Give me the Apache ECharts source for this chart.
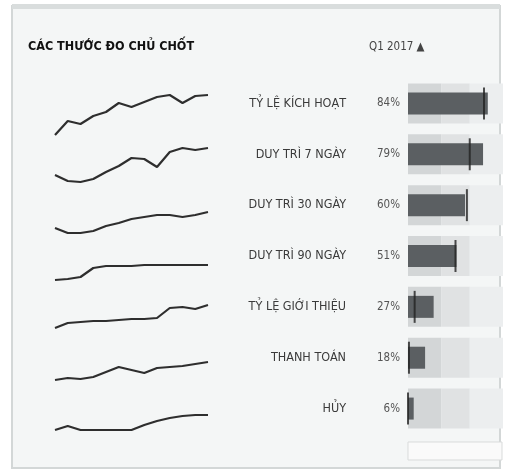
<!DOCTYPE html>
<html>
<head>
<meta charset="utf-8">
<script src="https://cdn.jsdelivr.net/npm/echarts@6/dist/echarts.min.js"></script>
<style>
html, body { margin: 0; padding: 0; background: #fff; }
#chart { width: 508px; height: 475px; }
</style>
</head>
<body>
<div id="chart"></div>
<script>
// ten chi so
var metrics = ['TỶ LỆ KÍCH HOẠT', 'DUY TRÌ 7 NGÀY', 'DUY TRÌ 30 NGÀY', 'DUY TRÌ 90 NGÀY', 'TỶ LỆ GIỚI THIỆU', 'THANH TOÁN', 'HỦY'];
var actualPct = [84, 79, 60, 51, 27, 18, 6];
var targetPct = [80, 65, 62, 50, 7, 1, 0];
// vung nen (xau / tam / tot), xep chong
var bandPoor = [35, 35, 35, 35, 35, 35, 35];
var bandFair = [30, 30, 30, 30, 30, 30, 30];
var bandGood = [35, 35, 35, 35, 35, 35, 35];
// xu huong theo tuan
var trendActivation = [3, 17, 14, 22, 26, 35, 31, 36, 41, 43, 35, 42, 43];
var trendRetain7 = [15, 9, 8, 11, 18, 24, 32, 31, 23, 38, 42, 40, 42];
var trendRetain30 = [17, 12, 12, 14, 19, 22, 26, 28, 30, 30, 28, 30, 33];
var trendRetain90 = [15, 16, 18, 27, 29, 29, 29, 30, 30, 30, 30, 30, 30];
var trendReferral = [17, 22, 23, 24, 24, 25, 26, 26, 27, 37, 38, 36, 40];
var trendPayment = [15, 17, 16, 18, 23, 28, 25, 22, 27, 28, 29, 31, 33];
var trendCancel = [15, 19, 15, 15, 15, 15, 15, 20, 24, 27, 29, 30, 30];
var weeks = ['T1', 'T2', 'T3', 'T4', 'T5', 'T6', 'T7', 'T8', 'T9', 'T10', 'T11', 'T12', 'T13'];

var trends = [trendActivation, trendRetain7, trendRetain30, trendRetain90, trendReferral, trendPayment, trendCancel];
var sparkTops = [88, 140, 195, 245, 295, 345, 395];
var FONT = '"DejaVu Sans Condensed", "Liberation Sans Narrow", sans-serif';

var grid = [], xAxis = [], yAxis = [], series = [];
trends.forEach(function (t, i) {
  grid.push({ left: 55, width: 153, top: sparkTops[i], height: 50 });
  xAxis.push({ type: 'category', gridIndex: i, data: weeks, boundaryGap: false, show: false });
  yAxis.push({ type: 'value', gridIndex: i, min: 0, max: 50, show: false });
  series.push({
    type: 'line', xAxisIndex: i, yAxisIndex: i, data: t,
    symbol: 'none', silent: true,
    lineStyle: { color: '#2e2e2e', width: 2.2 }
  });
});

// luoi cho bieu do bullet
var b = trends.length;
grid.push({ left: 408, width: 95, top: 78, height: 356 });
xAxis.push({ type: 'value', gridIndex: b, min: 0, max: 100, show: false });
yAxis.push({
  type: 'category', gridIndex: b, data: metrics, inverse: true,
  axisLine: { show: false }, axisTick: { show: false }, splitLine: { show: false },
  axisLabel: {
    margin: 8,
    formatter: function (val, idx) {
      return '{n|' + val + '}{p|' + actualPct[idx] + '%}';
    },
    rich: {
      n: { fontFamily: FONT, fontSize: 12.5, color: '#3a3a3a', align: 'right', padding: [0, 30, 0, 0] },
      p: { fontFamily: FONT, fontSize: 11.5, color: '#555', width: 24, align: 'right' }
    }
  }
});
yAxis.push({ type: 'category', gridIndex: b, data: metrics, inverse: true, show: false });

var bandColors = ['#d3d6d7', '#e0e2e3', '#eceeef'];
[bandPoor, bandFair, bandGood].forEach(function (d, k) {
  series.push({
    type: 'bar', xAxisIndex: b, yAxisIndex: b, stack: 'band', data: d,
    barWidth: 40, silent: true, itemStyle: { color: bandColors[k] }
  });
});
series.push({
  type: 'bar', xAxisIndex: b, yAxisIndex: b + 1, data: actualPct,
  barWidth: 22, silent: true, itemStyle: { color: '#5b5f62' }
});
series.push({
  type: 'scatter', xAxisIndex: b, yAxisIndex: b + 1,
  data: targetPct.map(function (v, i) { return [v, metrics[i]]; }),
  symbol: 'rect', symbolSize: [2, 32], silent: true,
  itemStyle: { color: '#222' }
});

var option = {
  animation: false,
  backgroundColor: '#fff',
  title: [
    { text: 'CÁC THƯỚC ĐO CHỦ CHỐT', left: 28, top: 40, padding: 0,
      textStyle: { fontFamily: FONT, fontSize: 12.5, fontWeight: 'bold', color: '#111' } },
    { text: 'Q1 2017 ▲', left: 369, top: 41, padding: 0,
      textStyle: { fontFamily: FONT, fontSize: 11.5, fontWeight: 'normal', color: '#444' } }
  ],
  graphic: [
    { type: 'rect', z: -10, shape: { x: 12, y: 6, width: 488, height: 462 },
      style: { fill: '#f4f6f6', stroke: '#d3d7d7', lineWidth: 2 } },
    { type: 'rect', z: -9, shape: { x: 12, y: 4, width: 488, height: 5 },
      style: { fill: '#d9dddd' } },
    { type: 'rect', shape: { x: 408, y: 442, width: 94, height: 18 },
      style: { fill: '#fafafa', stroke: '#d9dbdb', lineWidth: 1 } }
  ],
  grid: grid,
  xAxis: xAxis,
  yAxis: yAxis,
  series: series
};

var chart = echarts.init(document.getElementById('chart'));
chart.setOption(option);
window.addEventListener('resize', function () { chart.resize(); });
</script>
</body>
</html>
